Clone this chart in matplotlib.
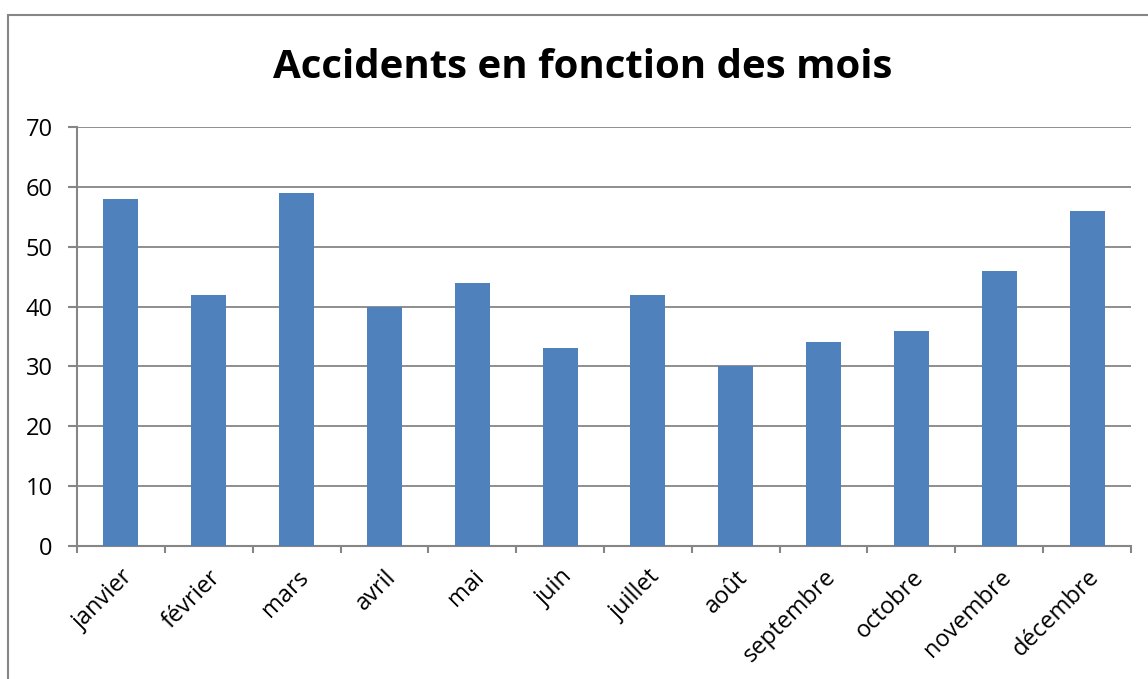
import matplotlib.pyplot as plt
import numpy as np
from matplotlib.patches import Rectangle

mois = ['janvier', 'février', 'mars', 'avril', 'mai', 'juin', 'juillet',
        'août', 'septembre', 'octobre', 'novembre', 'décembre']
accidents = [58, 42, 59, 40, 44, 33, 42, 30, 34, 36, 46, 56]
y_ticks = [0, 10, 20, 30, 40, 50, 60, 70]

plt.rcParams['font.family'] = ['Open Sans', 'DejaVu Sans']
gris = '#868686'

fig = plt.figure(figsize=(11.48, 6.79), dpi=100)
ax = fig.add_axes([77 / 1148, 1 - 546 / 679, (1131 - 77) / 1148, (546 - 127) / 679])

x = np.arange(len(mois))
ax.bar(x, accidents, width=0.4, color='#4F81BD', zorder=3)

ax.set_xlim(-0.5, len(mois) - 0.5)
ax.set_ylim(0, 70)
ax.set_yticks(y_ticks)
ax.set_yticklabels([str(v) for v in y_ticks], fontsize=17)
ax.set_xticks(x)
ax.set_xticklabels(mois, rotation=45, ha='right', rotation_mode='anchor', fontsize=17)
ax.set_xticks(np.arange(len(mois) + 1) - 0.5, minor=True)
ax.tick_params(axis='x', which='major', length=0, pad=14)
ax.tick_params(axis='x', which='minor', length=5, width=1.5, color=gris)
ax.tick_params(axis='y', length=6.5, width=1.5, color=gris, pad=11)
ax.yaxis.grid(True, color=gris, linewidth=1.3, zorder=0)

for side in ['top', 'right']:
    ax.spines[side].set_visible(False)
for side in ['left', 'bottom']:
    ax.spines[side].set_color(gris)
    ax.spines[side].set_linewidth(1.5)

# cadre du graphique
fig.patches.append(Rectangle((8 / 1148, -0.05), 1.1, 1 - 15 / 679 + 0.05,
                             transform=fig.transFigure, fill=False,
                             edgecolor=gris, linewidth=1.5))

fig.text(583 / 1148, 1 - 67 / 679, 'Accidents en fonction des mois',
         ha='center', va='center', fontsize=29, fontweight='bold')

fig.savefig('out.png', dpi=100)
